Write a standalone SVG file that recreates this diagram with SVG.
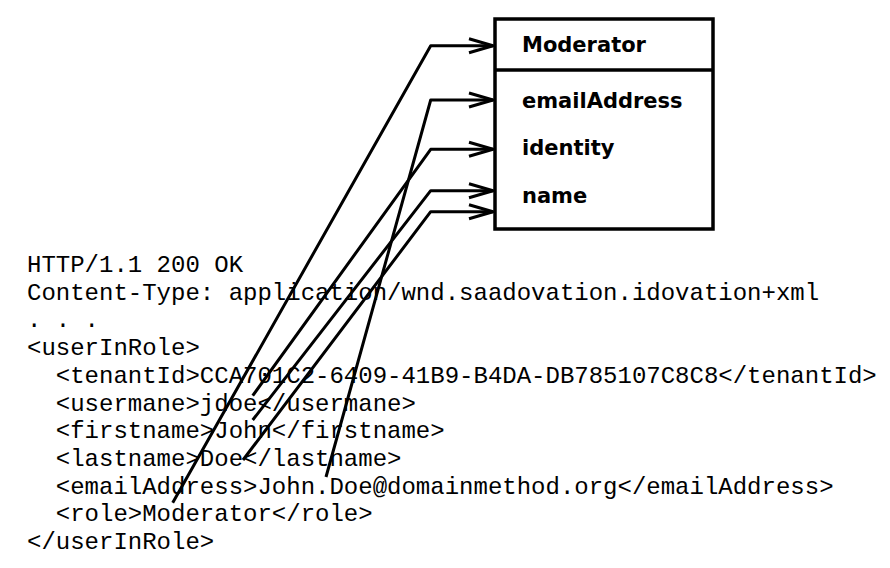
<svg xmlns="http://www.w3.org/2000/svg" width="890" height="568" viewBox="0 0 890 568">
<style>
.code{font-family:"Liberation Mono","Courier New",monospace;font-size:24px;fill:#000}
.lbl{font-family:"DejaVu Sans","Comic Sans MS",sans-serif;font-weight:bold;font-size:21px;fill:#000}
.box{fill:#fff;stroke:#000;stroke-width:3.5}
.conn{fill:none;stroke:#000;stroke-width:3;stroke-linejoin:round;stroke-linecap:butt}
</style>
<defs>
<marker id="open" markerUnits="userSpaceOnUse" markerWidth="30" markerHeight="20" viewBox="-26 -10 30 20" refX="0" refY="0" orient="auto" overflow="visible">
<path d="M-24,-7 L0,0 L-24,7" fill="none" stroke="#000" stroke-width="3" stroke-linejoin="round"/>
</marker>
</defs>
<rect width="890" height="568" fill="#fff"/>
<g id="code">
<text class="code" x="27" y="272">HTTP/1.1 200 OK</text>
<text class="code" x="27" y="299.7">Content-Type: application/wnd.saadovation.idovation+xml</text>
<text class="code" x="27" y="327.4">. . .</text>
<text class="code" x="27" y="355.1">&lt;userInRole&gt;</text>
<text class="code" x="27" y="382.8" xml:space="preserve">  &lt;tenantId&gt;CCA701C2-6409-41B9-B4DA-DB785107C8C8&lt;/tenantId&gt;</text>
<text class="code" x="27" y="410.5" xml:space="preserve">  &lt;usermane&gt;jdoe&lt;/usermane&gt;</text>
<text class="code" x="27" y="438.2" xml:space="preserve">  &lt;firstname&gt;John&lt;/firstname&gt;</text>
<text class="code" x="27" y="465.9" xml:space="preserve">  &lt;lastname&gt;Doe&lt;/lastname&gt;</text>
<text class="code" x="27" y="493.6" xml:space="preserve">  &lt;emailAddress&gt;John.Doe@domainmethod.org&lt;/emailAddress&gt;</text>
<text class="code" x="27" y="521.3" xml:space="preserve">  &lt;role&gt;Moderator&lt;/role&gt;</text>
<text class="code" x="27" y="549">&lt;/userInRole&gt;</text>
</g>
<g id="moderator">
<rect class="box" x="495" y="19" width="218" height="210"/>
<line x1="495" y1="70" x2="713" y2="70" stroke="#000" stroke-width="3.5"/>
<text class="lbl" x="522" y="52">Moderator</text>
<text class="lbl" x="522" y="108">emailAddress</text>
<text class="lbl" x="522" y="155">identity</text>
<text class="lbl" x="522" y="203">name</text>
</g>
<g id="connectors">
<polyline class="conn" points="172.7,502.7 430.7,45.7 493,45.7" marker-end="url(#open)"/>
<polyline class="conn" points="326,477 430.7,100 493,100" marker-end="url(#open)"/>
<polyline class="conn" points="252.7,395.7 430.7,149.3 493,149.3" marker-end="url(#open)"/>
<polyline class="conn" points="252.7,420 430.7,190.7 493,190.7" marker-end="url(#open)"/>
<polyline class="conn" points="243,460 430.7,211.7 493,211.7" marker-end="url(#open)"/>
</g>
</svg>
